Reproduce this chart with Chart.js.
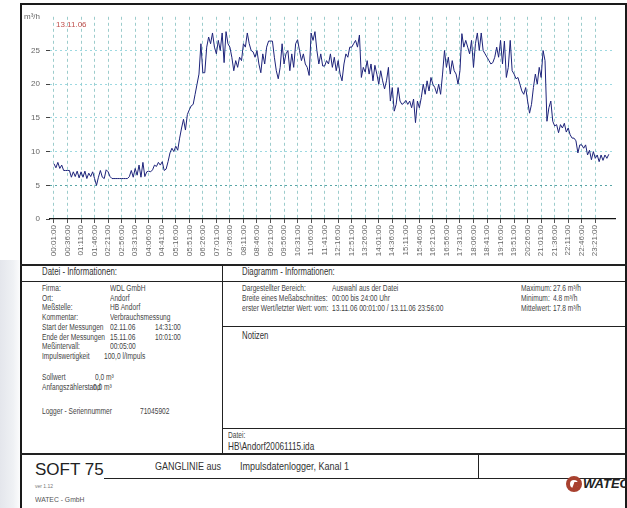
<!DOCTYPE html>
<html>
<head>
<meta charset="utf-8">
<script src="https://cdn.jsdelivr.net/npm/chart.js@4"></script>
<style>
  body { margin: 0; width: 627px; height: 508px; overflow: hidden; background: #fff;
         font-family: "Liberation Sans", Arial, sans-serif; color: #444; }
  .abs { position: absolute; white-space: nowrap; }
  .t { position: absolute; white-space: nowrap; font-size: 8.5px; line-height: 10px;
       transform: scaleX(0.78); transform-origin: 0 50%; }
  .hl { position: absolute; background: #222; }
  #shade { position: absolute; left: 0; top: 260px; width: 22px; height: 248px;
           background: linear-gradient(90deg, #e4e6ec 0%, #eff1f4 60%, #fff 100%); }
  #frame { position: absolute; left: 20px; top: 3px; width: 603px; height: 520px;
           border: 2px solid #1a1a1a; border-bottom: none; }
  #chartBox { position: absolute; left: 22px; top: 6px; width: 602px; height: 258px; }
</style>
</head>
<body>
<div id="shade"></div>
<div id="frame"></div>
<div id="chartBox"><canvas id="lineChart" width="602" height="258"></canvas></div>
<div class="abs" style="left:56px;top:20px;font-size:8px;color:#c0504d;">13.11.06</div>

<!-- table lines -->
<div class="hl" style="left:20px;top:264px;width:607px;height:2px;"></div>
<div class="hl" style="left:21px;top:281px;width:604px;height:1px;"></div>
<div class="hl" style="left:222px;top:265px;width:1px;height:189px;"></div>
<div class="hl" style="left:222px;top:326px;width:403px;height:1px;"></div>
<div class="hl" style="left:222px;top:428px;width:403px;height:1px;"></div>
<div class="hl" style="left:20px;top:453px;width:607px;height:2px;"></div>
<div class="hl" style="left:104px;top:478px;width:521px;height:1px;"></div>
<div class="hl" style="left:478px;top:454px;width:1px;height:24px;"></div>

<div id="tables"></div>

<!-- footer -->
<div class="abs" style="left:35px;top:460px;font-size:17px;color:#222;">SOFT 75</div>
<div class="abs" style="left:35px;top:483px;font-size:5px;color:#777;">ver 1.12</div>
<div class="abs" style="left:35px;top:495px;font-size:8px;color:#555;transform:scaleX(0.85);transform-origin:0 50%;">WATEC - GmbH</div>
<div class="abs" style="left:155px;top:461px;font-size:10px;color:#333;transform:scaleX(0.9);transform-origin:0 50%;">GANGLINIE aus</div>
<div class="abs" style="left:240px;top:461px;font-size:10px;color:#333;transform:scaleX(0.9);transform-origin:0 50%;">Impulsdatenlogger, Kanal 1</div>
<div class="abs" style="left:566px;top:476px;width:16px;height:16px;border-radius:50%;background:#a8412f;"></div>
<div class="abs" style="left:570px;top:480px;width:8px;height:8px;border-radius:50%;background:#fff;"></div>
<div class="abs" style="left:573px;top:482px;width:5px;height:8px;background:#a8412f;transform:skewX(-20deg);"></div>
<div class="abs" style="left:583px;top:476px;font-weight:bold;font-style:italic;font-size:13px;color:#222;">WATEC</div>

<script>
// DATA
const startMinute = 1;      // first value 00:01:00
const intervalMin = 5;      // Messintervall 00:05:00
const flowValues = [
  8.2, 7.6, 8.4, 7.5, 8.0, 7.2, 7.2, 7.2, 7.2, 6.2,
  7.0, 6.3, 7.1, 6.1, 7.0, 6.2, 7.1, 6.0, 6.8, 6.3,
  7.0, 6.0, 5.0, 6.2, 7.2, 6.2, 6.0, 7.3, 7.0, 6.3,
  6.0, 6.0, 6.0, 6.0, 6.0, 6.0, 6.0, 6.0, 6.0, 6.3,
  7.2, 6.2, 7.5, 6.5, 8.0, 6.2, 8.4, 6.3, 7.0, 7.1,
  7.0, 7.3, 8.0, 7.8, 8.4, 8.0, 8.5, 7.2, 7.4, 8.5,
  9.8, 10.5, 10.0, 10.8, 10.2, 12.0, 13.5, 14.8, 13.2, 15.5,
  16.2, 16.8, 17.0, 18.5, 20.0, 21.5, 26.0, 21.7, 21.7, 25.5,
  27.0, 26.0, 27.6, 25.5, 24.5, 26.5, 25.0, 27.6, 23.2, 27.8,
  26.0, 25.5, 24.0, 22.0, 23.5, 22.5, 24.0, 23.5, 26.0, 25.5,
  27.6, 26.0, 25.0, 24.8, 24.0, 25.0, 23.0, 21.7, 24.5, 23.0,
  25.5, 26.4, 26.4, 26.4, 24.0, 22.0, 20.8, 22.5, 26.0, 23.0,
  24.5, 25.0, 22.0, 24.5, 22.5, 26.0, 26.6, 25.0, 23.5, 24.5,
  23.0, 22.5, 21.3, 27.6, 26.5, 27.8, 25.0, 23.0, 24.5, 22.7,
  22.7, 23.5, 23.0, 24.5, 22.5, 24.0, 22.0, 23.5, 21.5, 20.5,
  23.0, 24.5, 24.0, 25.5, 25.5, 26.0, 26.5, 25.5, 27.3, 21.0,
  22.5, 21.8, 23.5, 21.5, 23.0, 20.5, 22.8, 21.5, 20.0, 22.0,
  20.5, 19.3, 20.5, 22.5, 17.5, 19.5, 16.0, 17.0, 19.5, 17.5,
  17.0, 17.2, 17.6, 17.0, 17.5, 16.5, 17.8, 14.3, 17.5, 16.5,
  18.0, 20.0, 18.5, 20.5, 19.0, 21.0, 20.0, 19.5, 18.6, 20.0,
  18.5, 21.5, 25.0, 22.5, 24.0, 21.5, 23.5, 22.0, 21.5, 20.0,
  22.0, 27.5, 25.5, 26.5, 25.5, 24.5, 26.5, 22.5, 26.0, 27.6,
  25.0, 27.6, 25.0, 24.5, 24.0, 23.5, 23.0, 23.2, 24.0, 25.5,
  24.0, 26.5, 23.0, 26.4, 21.0, 22.5, 26.5, 22.0, 21.5, 20.8,
  21.0, 20.0, 19.0, 18.5, 19.5, 17.5, 15.7, 17.0, 19.5, 21.5,
  20.0, 22.5, 21.0, 25.0, 23.5, 14.5, 16.5, 17.5, 14.5, 13.8,
  14.0, 12.8, 14.0, 13.5, 14.2, 12.9, 13.5, 12.5, 12.0, 12.0,
  11.6, 9.8, 11.0, 11.0, 10.5, 11.0, 9.5, 10.2, 8.8, 10.0,
  9.0, 9.5, 8.5, 9.5, 8.7, 9.5, 9.0, 9.6
];
const tickLabels = [
  "00:01:00", "00:36:00", "01:11:00", "01:46:00", "02:21:00", "02:56:00", "03:31:00",
  "04:06:00", "04:41:00", "05:16:00", "05:51:00", "06:26:00", "07:01:00", "07:36:00",
  "08:11:00", "08:46:00", "09:21:00", "09:56:00", "10:31:00", "11:06:00", "11:41:00",
  "12:16:00", "12:51:00", "13:26:00", "14:01:00", "14:36:00", "15:11:00", "15:46:00",
  "16:21:00", "16:56:00", "17:31:00", "18:06:00", "18:41:00", "19:16:00", "19:51:00",
  "20:26:00", "21:01:00", "21:36:00", "22:11:00", "22:46:00", "23:21:00"
];
const yTicks = [0, 5, 10, 15, 20, 25, 30];
const yUnit = "m³/h";

// TEXT BLOCKS
const dateiRows = [
  ["Firma:", "WDL GmbH", ""],
  ["Ort:", "Andorf", ""],
  ["Meßstelle:", "HB Andorf", ""],
  ["Kommentar:", "Verbrauchsmessung", ""],
  ["Start der Messungen", "02.11.06", "14:31:00"],
  ["Ende der Messungen", "15.11.06", "10:01:00"],
  ["Meßintervall:", "00:05:00", ""]
];
const diagRows = [
  ["Dargestellter Bereich:", "Auswahl aus der Datei", "Maximum:", "27.6 m³/h"],
  ["Breite eines Meßabschnittes:", "00:00  bis  24:00 Uhr", "Minimum:", "4.8 m³/h"],
  ["erster Wert/letzter Wert: vom:", "13.11.06   00:01:00 /  13.11.06   23:56:00", "Mittelwert:", "17.8 m³/h"]
];

function toMin(t) {
  const p = t.split(":");
  return parseInt(p[0]) * 60 + parseInt(p[1]);
}
function fmtMin(m) {
  const h = Math.floor(m / 60), mm = m % 60;
  return String(h).padStart(2, "0") + ":" + String(mm).padStart(2, "0") + ":00";
}

// TABLE TEXT
const tables = document.getElementById("tables");
function addText(x, y, txt, size, color) {
  const d = document.createElement("div");
  d.className = "t";
  d.style.left = x + "px";
  d.style.top = (y - 5) + "px";
  if (size) { d.style.fontSize = size + "px"; d.style.lineHeight = (size + 2) + "px"; d.style.top = (y - size / 2 - 1) + "px"; }
  if (color) d.style.color = color;
  d.textContent = txt;
  tables.appendChild(d);
}
addText(42, 272, "Datei - Informationen:", 10, "#333");
addText(242, 272, "Diagramm - Informationen:", 10, "#333");
dateiRows.forEach((r, i) => {
  const y = 288 + i * 9.7;
  addText(42, y, r[0]);
  addText(110, y, r[1]);
  if (r[2]) addText(155, y, r[2]);
});
addText(42, 356, "Impulswertigkeit");
addText(104, 356, "100,0 l/Impuls");
addText(42, 377, "Sollwert");
addText(95, 377, "0,0 m³");
addText(42, 387, "Anfangszählerstand");
addText(93, 387, "0,0 m³");
addText(42, 411, "Logger - Seriennummer");
addText(140, 411, "71045902");
diagRows.forEach((r, i) => {
  const y = 288 + i * 10.2;
  addText(242, y, r[0]);
  addText(332, y, r[1]);
  addText(521, y, r[2]);
  addText(553, y, r[3]);
});
addText(242, 336, "Notizen", 10, "#333");
addText(228, 435, "Datei:");
addText(228, 446, "HB\\Andorf20061115.ida", 10.5, "#333");

// LINE CHART
const flowPoints = flowValues.map((v, i) => ({ x: startMinute + i * intervalMin, y: v }));
const tickFont = { family: "Liberation Sans", size: 8 };

new Chart(document.getElementById("lineChart"), {
  type: "line",
  data: {
    datasets: [{
      data: flowPoints,
      borderColor: "#1d237a",
      borderWidth: 1,
      pointRadius: 0,
      tension: 0,
      fill: false
    }]
  },
  options: {
    responsive: false,
    animation: false,
    layout: { padding: { top: 9, right: 9, left: 0, bottom: 0 } },
    plugins: { legend: { display: false }, tooltip: { enabled: false } },
    scales: {
      x: {
        type: "linear",
        min: -9.3,
        max: 1452,
        afterBuildTicks: s => { s.ticks = tickLabels.map(t => ({ value: toMin(t) })); },
        afterFit: s => { s.height = 45; },
        border: { display: true, color: "#111", width: 1.2, dash: [3, 3] },
        grid: {
          color: "rgba(90,170,170,0.6)",
          tickColor: "#555",
          tickLength: 4,
          lineWidth: 1
        },
        ticks: {
          autoSkip: false,
          minRotation: 90,
          maxRotation: 90,
          padding: 2,
          font: tickFont,
          color: "#666",
          callback: v => fmtMin(v)
        }
      },
      y: {
        min: 0,
        max: 30,
        afterBuildTicks: s => { s.ticks = yTicks.map(v => ({ value: v })); },
        afterFit: s => { s.width = 28; },
        border: { display: false, dash: [2, 3] },
        grid: {
          color: c => c.tick.value === 5 ? "rgba(60,150,150,0.85)" :
                      (c.tick.value === 0 || c.tick.value === 30) ? "rgba(0,0,0,0)" : "rgba(140,210,220,0.85)",
          tickColor: c => c.tick.value === 30 ? "rgba(0,0,0,0)" : "#444",
          tickLength: 4,
          lineWidth: 1
        },
        ticks: {
          padding: 6,
          font: tickFont,
          color: "#666",
          callback: v => v === 30 ? yUnit : v
        }
      }
    }
  }
});
</script>
</body>
</html>
